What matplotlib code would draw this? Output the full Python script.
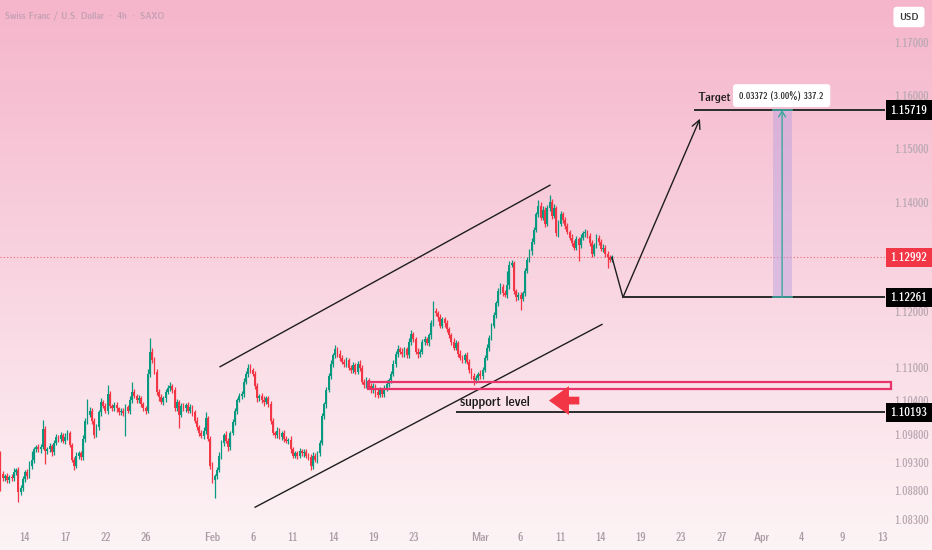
import numpy as np
import pandas as pd
import matplotlib
matplotlib.use("Agg")
import matplotlib.pyplot as plt
import matplotlib.transforms as mtrans
from matplotlib import font_manager as fm
from matplotlib.patches import Rectangle
from matplotlib.ticker import NullLocator, NullFormatter

# CHF/USD 4h candles, Fri 10 Jan 2025 04:00 -> Fri 14 Mar 2025 20:00
# prices in 1/10000 units, open of each bar = previous close
first_open = 10946
close_pips = [
    10910, 10902, 10906, 10899, 10904, 10902, 10913, 10917, 10877, 10884, 10901, 10913, 10906, 10924, 10935, 10953, 10957, 10953, 10957, 10990, 10950, 10953, 10959, 10948, 10964,
    10975, 10972, 10979, 10968, 10975, 10982, 10961, 10935, 10924, 10942, 10946, 10939, 10972, 11004, 11015, 11022, 11004, 10979, 10993, 11019, 11037, 11030, 11022, 11052, 11030,
    11026, 11032, 11026, 11019, 11022, 11017, 11028, 11021, 11041, 11055, 11048, 11041, 11044, 11033, 11026, 11022, 11088, 11128, 11113, 11092, 11055, 11046, 11037, 11044, 11055,
    11062, 11066, 11059, 11026, 11037, 11015, 11030, 11026, 11032, 11022, 11028, 11019, 11004, 10993, 10982, 10977, 10986, 11008, 10972, 10924, 10899, 10906, 10917, 10942, 10964,
    10979, 10968, 10957, 10982, 11001, 11022, 11041, 11048, 11052, 11073, 11088, 11099, 11095, 11088, 11066, 11044, 11048, 11041, 11037, 11044, 11033, 11004, 10982, 10979, 10986,
    10975, 10982, 10972, 10968, 10970, 10953, 10942, 10946, 10942, 10950, 10946, 10948, 10942, 10939, 10924, 10942, 10935, 10946, 10964, 11012, 11033, 11059, 11084, 11106, 11121,
    11132, 11124, 11117, 11110, 11106, 11113, 11099, 11095, 11103, 11092, 11106, 11099, 11073, 11068, 11077, 11066, 11059, 11066, 11055, 11050, 11059, 11052, 11062, 11070, 11077,
    11088, 11106, 11124, 11132, 11128, 11124, 11132, 11121, 11146, 11159, 11150, 11128, 11123, 11128, 11146, 11150, 11143, 11157, 11179, 11201, 11197, 11190, 11175, 11186, 11179,
    11168, 11157, 11146, 11135, 11143, 11124, 11117, 11113, 11121, 11110, 11095, 11084, 11077, 11081, 11088, 11084, 11095, 11117, 11135, 11153, 11175, 11194, 11215, 11237, 11245,
    11234, 11230, 11248, 11285, 11288, 11237, 11226, 11230, 11224, 11234, 11274, 11295, 11310, 11328, 11350, 11379, 11394, 11372, 11386, 11361, 11390, 11401, 11375, 11390, 11343,
    11361, 11379, 11368, 11357, 11346, 11335, 11325, 11317, 11332, 11321, 11335, 11343, 11346, 11339, 11325, 11306, 11321, 11335, 11328, 11314, 11317, 11306, 11299, 11295, 11299,
]
wick_up = [
    4, 5, 3, 6, 4, 5, 7, 3, 4, 6, 5, 4, 6, 8, 15, 5, 4, 6, 5, 16, 4, 5, 6, 3, 5,
    6, 4, 5, 4, 7, 6, 3, 4, 5, 6, 4, 5, 7, 5, 27, 6, 4, 5, 6, 5, 8, 4, 6, 16, 5,
    4, 6, 5, 3, 5, 4, 6, 4, 7, 18, 5, 4, 6, 5, 4, 5, 8, 24, 6, 5, 4, 6, 5, 4, 6,
    5, 7, 4, 6, 5, 4, 6, 5, 4, 5, 6, 4, 5, 6, 4, 5, 6, 12, 4, 5, 6, 4, 5, 6, 5,
    4, 6, 5, 4, 6, 5, 4, 6, 5, 7, 5, 7, 6, 4, 5, 6, 4, 5, 7, 5, 4, 6, 5, 4, 6,
    5, 4, 6, 5, 4, 6, 5, 4, 5, 6, 4, 5, 6, 4, 5, 6, 4, 5, 6, 5, 4, 6, 5, 7, 5,
    8, 5, 6, 4, 5, 6, 4, 5, 7, 4, 5, 6, 4, 5, 6, 4, 5, 6, 4, 5, 6, 4, 5, 6, 4,
    5, 6, 5, 7, 4, 6, 5, 4, 6, 8, 5, 4, 6, 5, 4, 6, 5, 4, 6, 18, 5, 4, 6, 5, 4,
    6, 5, 4, 6, 5, 4, 6, 5, 4, 6, 5, 4, 6, 5, 4, 6, 5, 4, 6, 5, 4, 6, 5, 6, 8,
    5, 6, 26, 8, 6, 5, 4, 6, 5, 4, 6, 5, 4, 6, 5, 4, 10, 6, 8, 5, 6, 13, 5, 8, 4,
    6, 5, 4, 6, 5, 4, 6, 5, 7, 4, 6, 5, 6, 4, 5, 6, 4, 6, 5, 4, 6, 5, 4, 5, 4,
]
wick_dn = [
    31, 5, 4, 6, 5, 4, 5, 6, 17, 5, 4, 6, 5, 4, 5, 6, 4, 5, 6, 4, 22, 5, 4, 6, 5,
    4, 6, 5, 4, 5, 6, 4, 5, 8, 4, 6, 5, 4, 5, 6, 4, 5, 6, 4, 5, 6, 4, 5, 6, 4,
    5, 4, 6, 5, 4, 5, 40, 4, 5, 6, 4, 5, 6, 4, 5, 6, 4, 5, 6, 4, 5, 6, 4, 5, 6,
    4, 5, 6, 4, 5, 24, 4, 5, 6, 4, 5, 6, 4, 5, 6, 4, 5, 6, 4, 5, 6, 31, 5, 4, 6,
    5, 4, 6, 5, 4, 5, 6, 4, 5, 6, 4, 5, 6, 4, 5, 6, 4, 5, 6, 4, 5, 6, 4, 5, 6,
    4, 5, 6, 4, 5, 6, 4, 5, 6, 4, 5, 6, 4, 5, 8, 5, 4, 6, 5, 4, 5, 6, 4, 5, 6,
    4, 5, 6, 4, 5, 6, 4, 5, 6, 4, 5, 6, 4, 5, 6, 4, 5, 6, 8, 5, 4, 6, 5, 4, 5,
    6, 4, 5, 6, 4, 5, 6, 4, 5, 6, 4, 5, 6, 4, 5, 6, 4, 5, 6, 4, 5, 6, 4, 5, 6,
    4, 5, 6, 4, 5, 6, 4, 5, 6, 4, 5, 6, 9, 5, 4, 6, 5, 4, 5, 6, 4, 5, 6, 4, 5,
    6, 4, 5, 6, 4, 5, 6, 4, 20, 5, 6, 4, 5, 6, 4, 5, 6, 4, 5, 6, 4, 5, 6, 4, 5,
    6, 4, 5, 6, 4, 5, 6, 4, 5, 29, 4, 5, 6, 4, 5, 6, 4, 5, 6, 4, 5, 6, 20, 5, 4,
]

# levels
target_px = 1.15719
entry_px = 1.12261
stop_px = 1.10193
last_px = 1.12992
zone_lo, zone_hi = 1.10607, 1.10734
move_text = "0.03372 (3.00%) 337.2"

# drawings, (bar index, price)
chan_top = [(98.4, 1.11007), (246.2, 1.14319)]
chan_bot = [(114.1, 1.08510), (269.5, 1.11770)]
path_x = [274, 278.9, 313.4]
path_y = [1.12992, 1.12261, 1.15557]

ytick_vals = [1.083, 1.088, 1.093, 1.098, 1.104, 1.11, 1.12, 1.14, 1.15, 1.16, 1.17]
tick_dates = ['2025-01-14', '2025-01-17', '2025-01-22', '2025-01-26', '2025-02-02', '2025-02-06',
              '2025-02-11', '2025-02-14', '2025-02-19', '2025-02-23', '2025-03-02', '2025-03-06',
              '2025-03-11', '2025-03-14', '2025-03-19', '2025-03-23', '2025-03-27', '2025-04-01',
              '2025-04-04', '2025-04-09', '2025-04-13']
tick_text = ['14', '17', '22', '26', 'Feb', '6', '11', '14', '19', '23', 'Mar', '6', '11', '14',
             '19', '23', '27', 'Apr', '4', '9', '13']

UP = '#089981'
DN = '#f23645'
LVL = '#2b2b2b'

# look for a narrow face, the screenshot text is squeezed
fam, stretch, k = 'DejaVu Sans', 'normal', 0.82
for f in fm.fontManager.ttflist:
    if f.style != 'normal':
        continue
    nm = f.name + ' ' + str(f.stretch)
    if 'Narrow' in nm or 'ondensed' in nm:
        fam, stretch, k = f.name, f.stretch, 1.0
        if 'Liberation' in f.name:
            break
plt.rcParams['font.family'] = [fam, 'DejaVu Sans']
plt.rcParams['font.stretch'] = stretch

# candle arrays
c = np.array(close_pips) / 1e4
o = np.r_[first_open / 1e4, c[:-1]]
hi = np.maximum(o, c) + np.array(wick_up) / 1e4
lo = np.minimum(o, c) - np.array(wick_dn) / 1e4
x = np.arange(len(c))
col = np.where(c >= o, UP, DN)

# bar calendar: 6 x 4h bars per weekday
days = pd.bdate_range('2025-01-10', '2025-04-18')
times = pd.DatetimeIndex([d + pd.Timedelta(hours=4 * h) for d in days for h in range(6)])
start = times.get_loc(pd.Timestamp('2025-03-14 20:00')) - (len(c) - 1)
tick_pos = times.searchsorted(pd.to_datetime(tick_dates)) - start

W, H = 932, 550
fig = plt.figure(figsize=(W / 100, H / 100), dpi=100)

# background gradient
bg = fig.add_axes([0, 0, 1, 1], zorder=-5)
grad = np.linspace(0, 1, 256)[:, None]
top = np.array([245, 181, 203]) / 255
bot = np.array([253, 244, 246]) / 255
img = top[None, None, :] * (1 - grad[:, :, None]) + bot[None, None, :] * grad[:, :, None]
bg.imshow(img, aspect='auto', extent=[0, 1, 0, 1])
bg.axis('off')

ax = fig.add_axes([0, 28 / H, 885 / W, 522 / H])
ax.patch.set_alpha(0)
ax.set_yscale('log')
ax.set_xlim(-0.2, 396.3)
ax.set_ylim(1.0825, 1.1780)
for s in ax.spines.values():
    s.set_visible(False)

# candles
ax.vlines(x, lo, hi, colors=col, lw=0.9, zorder=3)
ax.bar(x, np.maximum(np.abs(c - o), 0.00002), bottom=np.minimum(o, c), width=0.8,
       color=col, zorder=4, linewidth=0)

# channel
for seg in (chan_top, chan_bot):
    ax.plot([seg[0][0], seg[1][0]], [seg[0][1], seg[1][1]], color='#1e1e1e', lw=1.0, zorder=5)

# support zone
ax.add_patch(Rectangle((164.7, zone_lo), 399.0 - 164.7, zone_hi - zone_lo, fill=False,
                       edgecolor='#e8336b', lw=1.6, zorder=5, clip_on=False))
ax.text(205.9, 1.1036, 'support level', fontsize=10 * k, color='#1a1a1a', va='center', ha='left', zorder=6)
ax.annotate('', xy=(244.5, 1.1040), xytext=(260.6, 1.1040),
            arrowprops=dict(arrowstyle='simple,head_length=0.9,head_width=1.3,tail_width=0.35',
                            color=DN, mutation_scale=16, lw=0), zorder=6)

# level lines
ax.plot([204.6, 396.3], [stop_px, stop_px], color=LVL, lw=1.4, zorder=5)
ax.plot([279.8, 396.3], [entry_px, entry_px], color=LVL, lw=1.4, zorder=5)
ax.plot([311.2, 396.3], [target_px, target_px], color=LVL, lw=1.4, zorder=5)
ax.axhline(last_px, color=DN, lw=0.8, ls=(0, (1, 2)), alpha=0.7, zorder=2)
ax.text(312.1, 1.1595, 'Target', fontsize=9 * k, color='#1a1a1a', va='center', ha='left', zorder=6)

# projected path
ax.plot(path_x[:2], path_y[:2], color='#1e1e1e', lw=1.0, zorder=6)
ax.annotate('', xy=(path_x[2], path_y[2]), xytext=(path_x[1], path_y[1]),
            arrowprops=dict(arrowstyle='->,head_length=0.6,head_width=0.3', color='#1e1e1e', lw=1.0,
                            shrinkA=0, shrinkB=0), zorder=6)

# price range tool
ax.add_patch(Rectangle((346.1, entry_px), 354.6 - 346.1, target_px - entry_px,
                       facecolor='#b89fe0', alpha=0.45, edgecolor='none', zorder=4))
ax.plot([346.1, 354.6], [entry_px, entry_px], color='#3ba7a0', lw=1.2, zorder=5)
ax.plot([346.1, 354.6], [target_px, target_px], color='#3ba7a0', lw=1.2, zorder=5)
ax.annotate('', xy=(350.2, target_px), xytext=(350.2, entry_px),
            arrowprops=dict(arrowstyle='->,head_length=0.4,head_width=0.25', color='#3ba7a0', lw=1.0,
                            shrinkA=0, shrinkB=0), zorder=6)
ax.text(350.0, 1.1599, move_text, fontsize=6.6 * k, color='#222222', ha='center', va='center', zorder=7,
        bbox=dict(boxstyle='round,pad=0.7,rounding_size=0.35', fc='white', ec='none'))

# price scale
ax.yaxis.tick_right()
ax.set_yticks(ytick_vals)
ax.set_yticklabels([f'{v:.5f}' for v in ytick_vals])
ax.yaxis.set_minor_locator(NullLocator())
ax.yaxis.set_minor_formatter(NullFormatter())
ax.tick_params(axis='y', length=0, pad=7, labelsize=8 * k, labelcolor='#b9a9b2')
ax.set_xticks(tick_pos)
ax.set_xticklabels(tick_text)
ax.tick_params(axis='x', length=0, pad=7, labelsize=8 * k, labelcolor='#a89aa2')

tr = mtrans.blended_transform_factory(ax.transAxes, ax.transData)
for val, fc in ((target_px, 'black'), (last_px, DN), (entry_px, 'black'), (stop_px, 'black')):
    ax.text(909 / 885, val, f'{val:.5f}', transform=tr, fontsize=8.5 * k, color='white',
            ha='center', va='center', zorder=8, clip_on=False,
            bbox=dict(boxstyle='square,pad=0.35', fc=fc, ec='none'))

fig.text(5 / W, 1 - 16 / H, 'Swiss Franc / U.S. Dollar · 4h · SAXO', fontsize=7 * k,
         color='#c29fb1', ha='left', va='center')
fig.text(909 / W, 1 - 17 / H, 'USD', fontsize=7.5 * k, color='#333333', ha='center', va='center',
         bbox=dict(boxstyle='round,pad=0.55,rounding_size=0.3', fc='white', ec='none'))

fig.savefig('out.png', dpi=100)
